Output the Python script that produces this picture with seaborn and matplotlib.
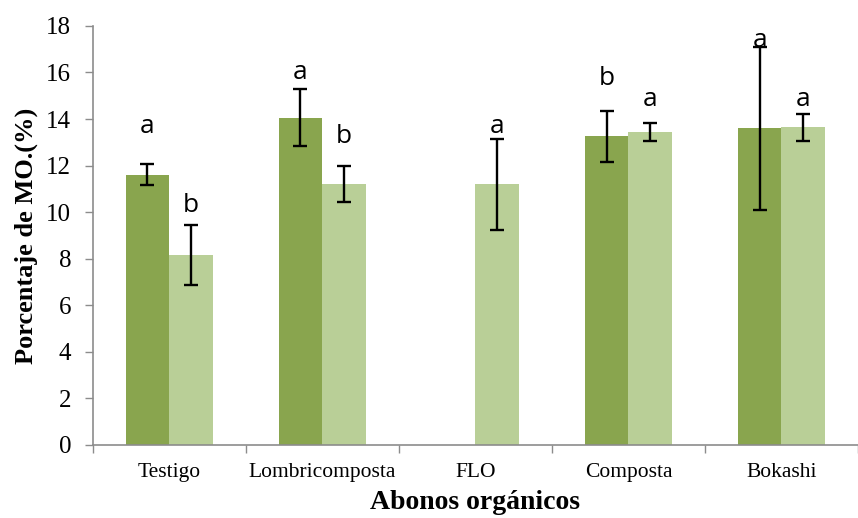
import matplotlib

matplotlib.use("Agg")
import matplotlib.pyplot as plt
import numpy as np
import pandas as pd
import seaborn as sns

# data
ABONOS = ["Testigo", "Lombricomposta", "FLO", "Composta", "Bokashi"]
SERIES = ["Muestreo 1", "Muestreo 2"]
mo_s1 = [11.6, 14.05, np.nan, 13.25, 13.6]
mo_s2 = [8.15, 11.2, 11.2, 13.45, 13.65]
err_s1 = [0.45, 1.22, np.nan, 1.1, 3.5]
err_s2 = [1.3, 0.78, 1.95, 0.38, 0.58]
letras_s1 = ["a", "a", "", "b", "a"]
letras_s2 = ["b", "b", "a", "a", "a"]
letra_y_s1 = [13.4, 15.7, np.nan, 15.45, 17.1]
letra_y_s2 = [10.0, 12.95, 13.4, 14.55, 14.55]

COLORS = {"Muestreo 1": "#89A54E", "Muestreo 2": "#B9CF97"}

df = pd.DataFrame({
    "abono": ABONOS * 2,
    "serie": [SERIES[0]] * 5 + [SERIES[1]] * 5,
    "mo": mo_s1 + mo_s2,
})
errs = {SERIES[0]: err_s1, SERIES[1]: err_s2}
letras = {SERIES[0]: letras_s1, SERIES[1]: letras_s2}
letra_y = {SERIES[0]: letra_y_s1, SERIES[1]: letra_y_s2}

sns.set_theme(style="white")
plt.rcParams["font.family"] = ["Liberation Serif", "DejaVu Serif"]
plt.rcParams["text.color"] = "black"
plt.rcParams["axes.labelcolor"] = "black"
plt.rcParams["xtick.color"] = "black"
plt.rcParams["ytick.color"] = "black"

fig = plt.figure(figsize=(8.58, 5.18), dpi=100)
ax = fig.add_axes([0.108, 0.141, 0.892, 0.809])

sns.barplot(data=df, x="abono", y="mo", hue="serie", order=ABONOS,
            hue_order=SERIES, palette=COLORS, width=0.569, errorbar=None,
            saturation=1, legend=False, linewidth=0, ax=ax)

# error bars and significance letters on top of each bar
for serie, cont in zip(SERIES, ax.containers):
    for bar in cont:
        h = bar.get_height()
        if not np.isfinite(h) or h == 0:
            continue
        xc = bar.get_x() + bar.get_width() / 2
        i = int(round(xc))
        ax.errorbar(xc, h, yerr=errs[serie][i], fmt="none", ecolor="black",
                    elinewidth=1.7, capsize=5, capthick=1.7, zorder=3)
        ax.text(xc, letra_y[serie][i], letras[serie][i], ha="center",
                va="baseline", fontsize=19, color="black",
                family=["Open Sans", "DejaVu Sans"])

ax.set_ylim(0, 18)
ax.set_yticks(range(0, 19, 2))
ax.set_xlim(-0.5, 4.445)
ax.set_xticks(np.arange(-0.5, 5, 1))
ax.set_xticklabels([])
ax.set_xticks(range(5), minor=True)
ax.set_xticklabels(ABONOS, minor=True, fontsize=15.5)
ax.tick_params(axis="x", which="major", direction="out", length=6, width=1,
               color="#8c8c8c", bottom=True)
ax.tick_params(axis="x", which="minor", length=0, pad=13)
ax.tick_params(axis="y", direction="out", length=5.5, width=1, color="#8c8c8c",
               labelsize=18, pad=10, left=True, labelcolor="black")

ax.set_ylabel("Porcentaje de MO.(%)", fontsize=19, fontweight="bold", labelpad=6)
ax.set_xlabel("Abonos orgánicos", fontsize=20, fontweight="bold", labelpad=6)

for s in ("top", "right"):
    ax.spines[s].set_visible(False)
for s in ("left", "bottom"):
    ax.spines[s].set_color("#8c8c8c")
    ax.spines[s].set_linewidth(1.2)

fig.savefig("out.png", dpi=100)
